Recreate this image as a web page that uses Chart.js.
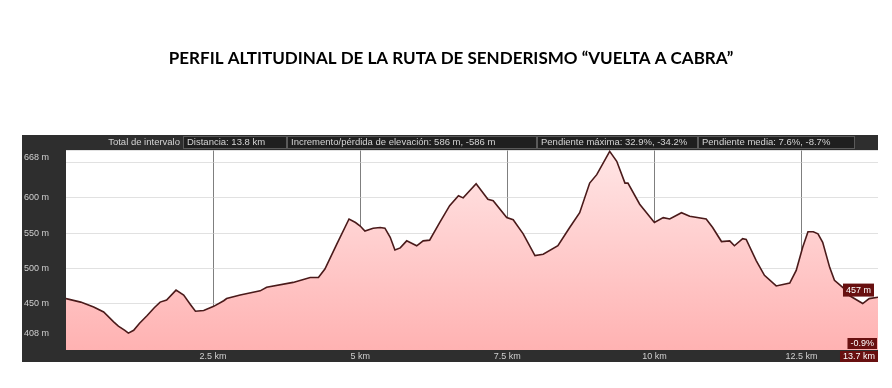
<!DOCTYPE html>
<html lang="es">
<head>
  <meta charset="UTF-8" />
  <title>Perfil altitudinal - Vuelta a Cabra</title>
  <script src="https://cdn.jsdelivr.net/npm/chart.js"></script>
  <style>
    html, body { margin: 0; padding: 0; background: #fff; }
    canvas { display: block; }
  </style>
</head>
<body>
  <canvas id="perfil" width="892" height="388"></canvas>

  <script>
    const distanciaKm = [0, 0.25, 0.47, 0.64, 0.81, 0.89, 1.0, 1.06, 1.15, 1.25, 1.38, 1.5, 1.6, 1.71, 1.87, 2.0, 2.12, 2.2, 2.34, 2.51,
      2.68, 2.73, 2.96, 3.3, 3.41, 3.86, 4.15, 4.29, 4.4, 4.6, 4.81, 4.92, 5.0, 5.08, 5.22, 5.34, 5.42, 5.51, 5.59, 5.68,
      5.79, 5.96, 6.07, 6.18, 6.35, 6.52, 6.67, 6.75, 6.97, 7.17, 7.26, 7.49, 7.6, 7.77, 7.97, 8.11, 8.36, 8.56, 8.73, 8.9,
      9.02, 9.24, 9.36, 9.5, 9.55, 9.75, 10.0, 10.15, 10.26, 10.46, 10.6, 10.88, 10.99, 11.14, 11.28, 11.36, 11.5, 11.56, 11.73, 11.87,
      12.07, 12.3, 12.41, 12.52, 12.61, 12.7, 12.78, 12.86, 12.98, 13.06, 13.2, 13.32, 13.54, 13.65, 13.8];
    const altitudM = [457, 452, 445, 438, 424, 418, 412, 408, 412, 422, 433, 444, 452, 455, 469, 462, 448, 439, 440, 446,
      454, 457, 462, 468, 473, 480, 487, 487, 499, 534, 570, 565, 560, 553, 557, 558, 557, 544, 526, 529,
      539, 532, 539, 540, 565, 589, 603, 600, 620, 598, 596, 572, 569, 549, 518, 520, 532, 558, 579, 621,
      633, 666, 652, 621, 621, 591, 565, 572, 570, 579, 574, 570, 558, 538, 539, 532, 542, 541, 511, 490,
      475, 479, 497, 530, 552, 552, 549, 537, 501, 483, 473, 461, 450, 457, 459];

    const marcasAltitud = [408, 450, 500, 550, 600, 650, 668];
    const marcasDistancia = [2.5, 5, 7.5, 10, 12.5];

    const etiquetaIntervalo = "Total de intervalo";
    const resumen = [
      "Distancia: 13.8 km",
      "Incremento/pérdida de elevación: 586 m, -586 m",
      "Pendiente máxima: 32.9%, -34.2%",
      "Pendiente media: 7.6%, -8.7%"
    ];
    const cursorKm = 13.7;
    const cursorAltitud = 457;
    const cursorPendiente = "-0.9%";

    const fuente = "'Liberation Sans', Arial, sans-serif";
    const GRIS = "#2e2e2e";
    const GRANATE = "#681010";

    function caja(ctx, texto, xDer, yTop, alto) {
      ctx.font = "9px " + fuente;
      const w = ctx.measureText(texto).width + 6;
      ctx.fillStyle = GRANATE;
      ctx.fillRect(xDer - w, yTop, w, alto);
      ctx.fillStyle = "#fff";
      ctx.textAlign = "left";
      ctx.textBaseline = "middle";
      ctx.fillText(texto, xDer - w + 3, yTop + alto / 2 + 0.5);
    }

    // fondo oscuro, cabecera y marcas del cursor
    const panel = {
      id: "panel",
      beforeDraw(chart) {
        const { ctx, chartArea: a } = chart;
        ctx.save();
        ctx.fillStyle = "#fff";
        ctx.fillRect(0, 0, chart.width, chart.height);
        ctx.fillStyle = GRIS;
        ctx.fillRect(22, 135, a.right - 22, 227);
        ctx.fillStyle = "#fff";
        ctx.fillRect(a.left, a.top, a.right - a.left, a.bottom - a.top);

        // cabecera
        ctx.font = "9.5px " + fuente;
        ctx.textBaseline = "middle";
        ctx.fillStyle = "#d4d4d4";
        ctx.textAlign = "right";
        ctx.fillText(etiquetaIntervalo, 180, 142.5);
        const cajas = [[183, 287], [287, 537], [537, 698], [698, 855]];
        resumen.forEach((t, i) => {
          const [x0, x1] = cajas[i];
          ctx.fillStyle = "#1f1f1f";
          ctx.fillRect(x0, 136.5, x1 - x0, 12);
          ctx.strokeStyle = "#5a5a5a";
          ctx.lineWidth = 1;
          ctx.strokeRect(x0 + 0.5, 136.5, x1 - x0 - 1, 12);
          ctx.fillStyle = "#d4d4d4";
          ctx.textAlign = "left";
          ctx.fillText(t, x0 + 4, 142.5);
        });
        ctx.restore();
      },
      afterDraw(chart) {
        const { ctx, chartArea: a } = chart;
        const y = chart.scales.y;
        ctx.save();
        ctx.font = "9px " + fuente;
        ctx.fillStyle = "#d0d0d0";
        ctx.textAlign = "left";
        ctx.textBaseline = "middle";
        ctx.fillText("668 m", 24, y.getPixelForValue(668) + 8);

        caja(ctx, cursorAltitud + " m", a.right - 4, y.getPixelForValue(cursorAltitud) - 15, 13);
        caja(ctx, cursorPendiente, a.right - 1, a.bottom - 12, 11);
        caja(ctx, cursorKm + " km", a.right, a.bottom + 1, 11);
        ctx.restore();
      }
    };

    const puntos = distanciaKm.map((d, i) => ({ x: d, y: altitudM[i] }));

    new Chart(document.getElementById("perfil"), {
      type: "line",
      data: {
        datasets: [{
          data: puntos,
          borderColor: "#4a1a1a",
          borderWidth: 1.6,
          pointRadius: 0,
          tension: 0,
          fill: "start",
          backgroundColor(c) {
            const a = c.chart.chartArea;
            if (!a) return "#ffc8c8";
            const g = c.chart.ctx.createLinearGradient(0, a.top, 0, a.bottom);
            g.addColorStop(0, "#ffe6e6");
            g.addColorStop(1, "#ffb2b2");
            return g;
          }
        }]
      },
      options: {
        responsive: false,
        animation: false,
        devicePixelRatio: 1,
        layout: { padding: { left: 24, right: 14, top: 0, bottom: 26 } },
        plugins: {
          legend: { display: false },
          tooltip: { enabled: false },
          title: {
            display: true,
            text: "PERFIL ALTITUDINAL DE LA RUTA DE SENDERISMO “VUELTA A CABRA”",
            color: "#000",
            font: { family: "Lato, 'Open Sans', sans-serif", size: 17, weight: "bold", lineHeight: 1.2 },
            padding: { top: 48, bottom: 81.6 }
          }
        },
        scales: {
          x: {
            type: "linear",
            min: 0,
            max: 13.8,
            z: 1,
            afterBuildTicks: s => { s.ticks = marcasDistancia.map(v => ({ value: v })); },
            afterFit: s => { s.height = 12; },
            ticks: {
              autoSkip: false,
              maxRotation: 0,
              padding: 1,
              color: "#cfcfcf",
              font: { family: fuente, size: 9 },
              callback: v => v + " km"
            },
            grid: { color: "rgba(105,105,105,0.85)", drawTicks: false },
            border: { display: false }
          },
          y: {
            min: 384,
            max: 668,
            z: 1,
            afterBuildTicks: s => { s.ticks = marcasAltitud.map(v => ({ value: v })); },
            afterFit: s => { s.width = 42; },
            ticks: {
              autoSkip: false,
              crossAlign: "far",
              padding: 2,
              color: "#cfcfcf",
              font: { family: fuente, size: 9 },
              callback: v => (v === 650 || v === 668) ? "" : v + " m"
            },
            grid: { color: "rgba(205,205,205,0.6)", drawTicks: false },
            border: { display: false }
          }
        }
      },
      plugins: [panel]
    });
  </script>
</body>
</html>
